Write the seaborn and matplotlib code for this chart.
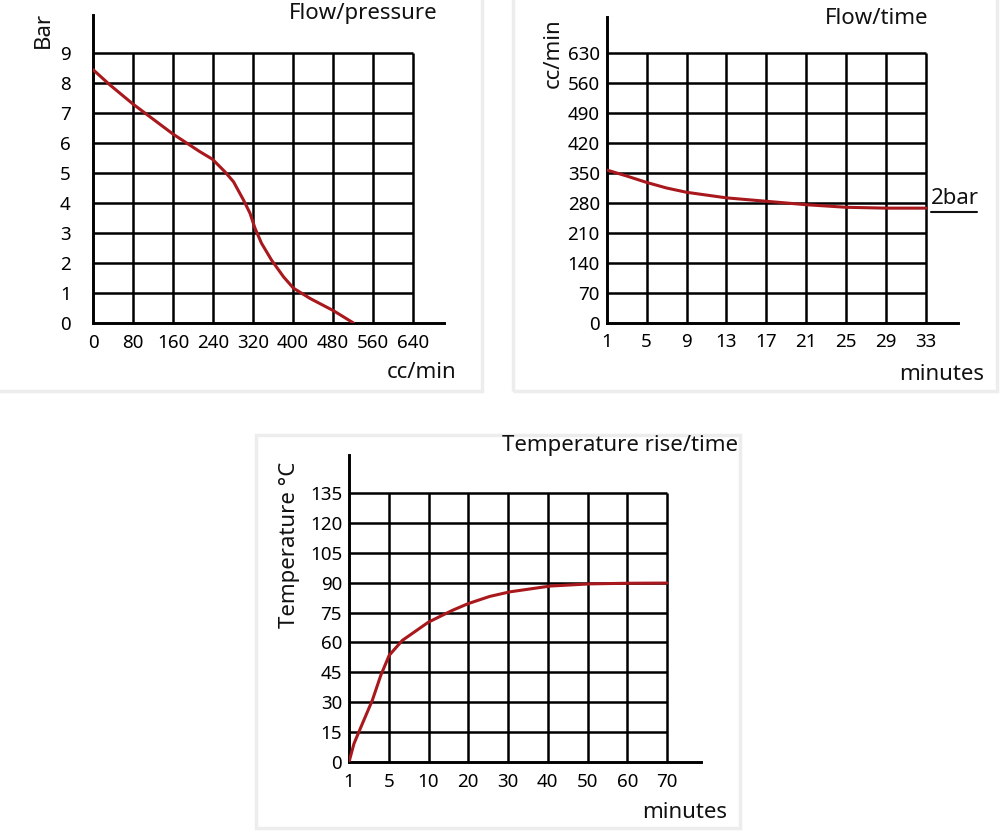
import numpy as np
import pandas as pd
import seaborn as sns
import matplotlib.pyplot as plt
from matplotlib.patches import Rectangle
from matplotlib.lines import Line2D
from matplotlib.ticker import NullLocator

# --- data ---
# Flow/pressure
fp_flow = [0, 33, 80, 160, 214, 239, 264, 281, 301, 314, 324, 337, 357, 381, 401, 434, 481, 521]
fp_bar = [8.45, 7.95, 7.3, 6.3, 5.71, 5.46, 5.04, 4.71, 4.1, 3.66, 3.16, 2.66, 2.1, 1.54, 1.16, 0.82, 0.41, 0.0]
fp_xticks = [0, 80, 160, 240, 320, 400, 480, 560, 640]
fp_yticks = [0, 1, 2, 3, 4, 5, 6, 7, 8, 9]

# Flow/time (2 bar)
ft_min = [1, 3, 5, 7, 9, 13, 17, 21, 25, 29, 33]
ft_flow = [357, 343, 328, 315, 305, 292, 284, 276, 270, 268, 268]
ft_xticks = [1, 5, 9, 13, 17, 21, 25, 29, 33]
ft_yticks = [0, 70, 140, 210, 280, 350, 420, 490, 560, 630]

# Temperature rise/time
tr_min = [1, 1.5, 2.35, 3.35, 4.2, 5.05, 6.7, 10, 16, 20, 25.4, 30.5, 40.6, 50.7, 60, 70]
tr_temp = [0, 9.2, 19.3, 31, 43.5, 53.5, 61, 70.2, 76.1, 79.5, 83.1, 85.4, 88.3, 89.4, 89.7, 89.8]
tr_xticks = [1, 5, 10, 20, 30, 40, 50, 60, 70]
tr_yticks = [0, 15, 30, 45, 60, 75, 90, 105, 120, 135]

RED = "#a8181c"
W, H = 1000, 839

sns.set_theme(style="white")
plt.rcParams["font.family"] = ["Noto Sans", "DejaVu Sans"]

fig = plt.figure(figsize=(10, 8.39), dpi=100)
fig.patch.set_facecolor("white")


def px_axes(left, right, top, bottom):
    return fig.add_axes([left / W, 1 - bottom / H, (right - left) / W, (bottom - top) / H])


def fig_xy(x, y):
    return x / W, 1 - y / H


# faint card outlines
for (x0, y0, x1, y1) in [(-5, -5, 482, 391), (513, -5, 997, 391), (256, 435, 740, 828)]:
    fig.add_artist(Rectangle((x0 / W, 1 - y1 / H), (x1 - x0) / W, (y1 - y0) / H,
                             transform=fig.transFigure, facecolor="none",
                             edgecolor="#ededed", linewidth=2.5, zorder=0))


def style_axes(ax, xticks, yticks, xpad, ypad):
    ax.set_facecolor("none")
    ax.hlines(yticks[1:], xticks[0], xticks[-1], color="black", linewidth=1.8, zorder=1)
    ax.vlines(xticks[1:], yticks[0], yticks[-1], color="black", linewidth=1.8, zorder=1)
    for s in ["top", "right"]:
        ax.spines[s].set_visible(False)
    for s in ["left", "bottom"]:
        ax.spines[s].set_color("black")
        ax.spines[s].set_linewidth(2.1)
    ax.set_xticks(xticks)
    ax.set_yticks(yticks)
    ax.xaxis.set_minor_locator(NullLocator())
    ax.set_xticklabels([str(t) for t in xticks])
    ax.set_yticklabels([str(t) for t in yticks])
    ax.tick_params(axis="x", length=0, pad=xpad, labelsize=13.5, colors="black")
    ax.tick_params(axis="y", length=0, pad=ypad, labelsize=13.5, colors="black")
    ax.set_xlabel("")
    ax.set_ylabel("")
    ax.grid(False)


# panel 1: flow / pressure
ax1 = px_axes(93, 444, 15, 323)
df1 = pd.DataFrame({"flow": fp_flow, "bar": fp_bar})
sns.lineplot(data=df1, x="flow", y="bar", ax=ax1, color=RED, linewidth=2.2, zorder=3)
ax1.set_xlim(0, 702)
ax1.set_ylim(0, 10.27)
style_axes(ax1, fp_xticks, fp_yticks, xpad=8, ypad=16)

# panel 2: flow / time
ax2 = px_axes(606.7, 958, 17, 323)
df2 = pd.DataFrame({"minutes": ft_min, "flow": ft_flow})
sns.lineplot(data=df2, x="minutes", y="flow", ax=ax2, color=RED, linewidth=2.2, zorder=3)
ax2.set_xlim(1, 1 + (958 - 606.7) / (319.3 / 32))
ax2.set_ylim(0, 630 * 306 / 270)
style_axes(ax2, ft_xticks, ft_yticks, xpad=7, ypad=5)

# panel 3: temperature rise / time (uneven minute ticks, evenly spaced)
_pos = list(range(len(tr_xticks))) + [18]
_val = tr_xticks + [170]


def _fwd(x):
    return np.interp(x, _val, _pos)


def _inv(p):
    return np.interp(p, _pos, _val)


ax3 = px_axes(349, 701, 455, 762)
ax3.set_xscale("function", functions=(_fwd, _inv))
df3 = pd.DataFrame({"minutes": tr_min, "temp": tr_temp})
sns.lineplot(data=df3, x="minutes", y="temp", ax=ax3, color=RED, linewidth=2.2, zorder=3)
ax3.set_xlim(1, _inv((701 - 349) / (318 / 8)))
ax3.set_ylim(0, 135 * 307 / 269)
style_axes(ax3, tr_xticks, tr_yticks, xpad=8, ypad=5)

# titles and axis labels
TXT = dict(color="#111111", fontsize=16)
fig.text(*fig_xy(363, 13), "Flow/pressure", ha="center", va="center", **TXT)
fig.text(*fig_xy(43, 30), "Bar", ha="center", va="center", rotation=90, **TXT)
fig.text(*fig_xy(422, 373), "cc/min", ha="center", va="center", **TXT)

fig.text(*fig_xy(877, 19), "Flow/time", ha="center", va="center", **TXT)
fig.text(*fig_xy(553, 53), "cc/min", ha="center", va="center", rotation=90, **TXT)
fig.text(*fig_xy(942, 375), "minutes", ha="center", va="center", **TXT)
fig.text(*fig_xy(931, 199), "2bar", ha="left", va="center", **TXT)
fig.add_artist(Line2D([931 / W, 977 / W], [1 - 212 / H, 1 - 212 / H],
                      transform=fig.transFigure, color="#111111", linewidth=1.5))

fig.text(*fig_xy(620, 446), "Temperature rise/time", ha="center", va="center", **TXT)
fig.text(*fig_xy(290, 545), "Temperature °C", ha="center", va="center", rotation=90, **TXT)
fig.text(*fig_xy(685, 813), "minutes", ha="center", va="center", **TXT)

fig.savefig("out.png", dpi=100, facecolor="white")
